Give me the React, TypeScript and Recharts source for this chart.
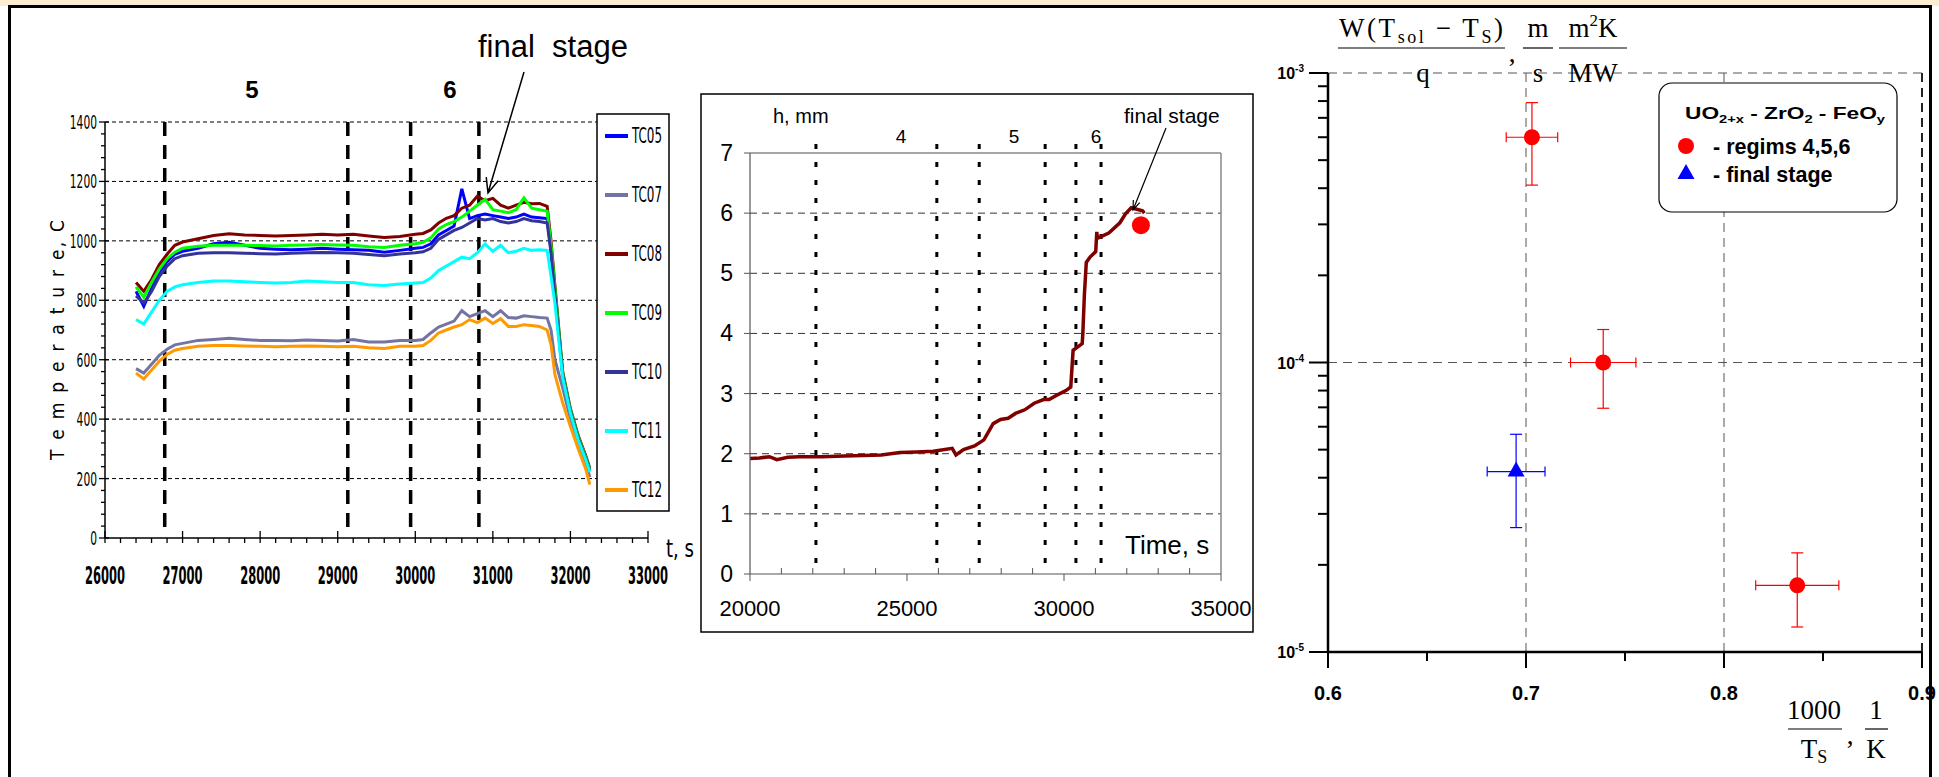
import React from "react";
import {
  LineChart,
  Line,
  ComposedChart,
  ScatterChart,
  Scatter,
  ErrorBar,
  XAxis,
  YAxis,
  ReferenceLine,
  ReferenceDot,
} from "recharts";

const NARROW = "'Liberation Sans Narrow', 'DejaVu Sans Condensed', 'Liberation Sans', Arial, sans-serif";
const SANS = "'Liberation Sans', Arial, Helvetica, sans-serif";
const SERIF = "'Liberation Serif', 'Times New Roman', serif";

// ---------- left panel: thermocouple temperatures, C ----------
const tcTimes = [
  26400, 26500, 26600, 26700, 26800, 26900, 27000,
  27200, 27400, 27600, 27800, 28000, 28200, 28400, 28600, 28800, 29000, 29200, 29400, 29600, 29800,
  30000, 30100, 30200, 30300, 30400, 30500, 30600, 30700, 30800, 30900, 31000, 31100, 31200, 31300, 31400, 31500, 31600, 31700,
  31750, 31800, 31900, 32000, 32100, 32200, 32250,
];
const tc05 = [
  830, 780, 840, 895, 930, 955, 965,
  975, 990, 995, 985, 975, 972, 970, 972, 975, 972, 970, 968, 962, 968,
  975, 978, 990, 1020, 1035, 1050, 1175, 1075, 1085, 1090, 1085, 1080, 1075, 1080, 1090, 1080, 1078, 1075,
  970, 830, 550, 428, 338, 268, 228,
];
const tc07 = [
  570, 555, 585, 615, 635, 650, 655,
  665, 668, 672, 668, 665, 665, 664, 666, 665, 663, 668, 660, 660, 665,
  665, 668, 690, 710, 720, 730, 765, 745, 755, 765, 745, 765, 742, 740, 748, 745, 742, 740,
  700, 600, 505, 400, 320, 250, 205,
];
const tc08 = [
  860, 830, 870, 920, 955, 985, 996,
  1007, 1018, 1024, 1020, 1018, 1016, 1018, 1020, 1022, 1020, 1022, 1016, 1011, 1015,
  1022, 1025, 1037, 1060, 1076, 1085, 1110, 1120, 1150, 1135, 1143, 1120, 1110, 1120, 1130, 1125, 1126, 1116,
  1000, 850, 560, 435, 345, 275, 235,
];
const tc09 = [
  845, 810, 860, 905, 940, 962, 975,
  982, 985, 985, 985, 984, 983, 985, 986, 988, 986, 985, 980, 978, 985,
  990, 995, 1010, 1040, 1055, 1065, 1080, 1100, 1120, 1140, 1105, 1100, 1095, 1105, 1145, 1110, 1105, 1100,
  985, 840, 555, 430, 340, 270, 230,
];
const tc10 = [
  815, 790, 830, 880, 915, 940, 950,
  958, 960, 960, 958, 957, 956, 958, 960, 961, 960, 958, 954, 950, 956,
  960, 963, 975, 1005, 1020, 1035, 1045, 1060, 1075, 1070, 1075, 1065, 1060, 1065, 1075, 1068, 1065, 1060,
  960, 820, 548, 425, 335, 265, 226,
];
const tc11 = [
  735, 720, 760, 800, 830, 845, 852,
  860, 865, 865, 862, 860, 858, 860, 865, 862, 860, 860, 852, 850, 855,
  858, 860, 875, 900, 915, 930, 945, 940, 960, 990, 965, 985, 960, 965, 975, 968, 970, 968,
  880, 790, 540, 420, 330, 262, 222,
];
const tc12 = [
  555, 535, 565, 595, 618, 632, 638,
  645, 648, 648, 646, 645, 644, 645, 646, 645, 644, 645, 640, 638, 645,
  645, 648, 665, 690, 700, 710, 718, 735, 725, 740, 722, 738, 712, 712, 718, 715, 712, 700,
  650, 550, 455, 375, 300, 230, 180,
];
const tcNames = ["TC05", "TC07", "TC08", "TC09", "TC10", "TC11", "TC12"];
const tcColors = ["#0000ff", "#7474a4", "#800000", "#00ff00", "#333399", "#00ffff", "#ff9900"];
const tcValues = [tc05, tc07, tc08, tc09, tc10, tc11, tc12];
const regimeBounds = [26770, 29130, 29940, 30820];
const tempGridValues = [200, 400, 600, 800, 1000, 1200, 1400];
const tempTicks = Array.from({ length: 36 }, (_, i) => i * 40);
const timeTicks = Array.from({ length: 36 }, (_, i) => 26000 + i * 200);

const tcData = tcTimes.map((t, i) => {
  const row: Record<string, number> = { t };
  tcNames.forEach((n, k) => {
    row[n] = tcValues[k][i];
  });
  return row;
});

// ---------- middle panel: melt depth h, mm ----------
const hTimes = [
  20000, 20300, 20620, 20855, 21200, 21570, 22300, 22990, 23600, 24180, 24775, 25300, 25840, 26440, 26560,
  26800, 27150, 27450, 27745, 27980, 28220, 28455, 28750, 29050, 29350, 29525, 29760, 30060, 30215, 30290,
  30580, 30600, 30650, 30710, 30830, 31010, 31045, 31060, 31425, 31780, 31960, 32140, 32500, 32560,
];
const hValues = [
  1.92, 1.93, 1.95, 1.9, 1.94, 1.95, 1.95, 1.96, 1.97, 1.98, 2.02, 2.03, 2.04, 2.09, 1.98,
  2.07, 2.13, 2.23, 2.5, 2.57, 2.59, 2.67, 2.73, 2.84, 2.9, 2.9, 2.97, 3.05, 3.11, 3.72,
  3.83, 4.0, 4.65, 5.18, 5.27, 5.36, 5.69, 5.58, 5.67, 5.84, 5.99, 6.09, 6.04, 6.0,
];
const stageBounds = [22100, 25950, 27300, 29400, 30380, 31180];
const finalStageTime = 32450;
const finalStageDepth = 5.8;
const depthTicks = [0, 1, 2, 3, 4, 5, 6, 7];
const depthGrid = [1, 2, 3, 4, 5, 6];
const hTimeTicks = Array.from({ length: 16 }, (_, i) => 20000 + i * 1000);

const hData = hTimes.map((t, i) => ({ t, h: hValues[i] }));

// ---------- right panel: W(Tsol-Ts)/q vs 1000/Ts ----------
const regimX = [0.703, 0.739, 0.837];
const regimY = [6.0e-4, 1.0e-4, 1.7e-5];
const regimXErr = [0.013, 0.0165, 0.021];
const regimYLow = [4.1e-4, 6.95e-5, 1.22e-5];
const regimYHigh = [7.9e-4, 1.3e-4, 2.2e-5];
const finalX = [0.695];
const finalY = [4.2e-5];
const finalXErr = [0.0146];
const finalYLow = [2.69e-5];
const finalYHigh = [5.65e-5];
const invTempTicks = [0.6, 0.65, 0.7, 0.75, 0.8, 0.85, 0.9];
const invTempMajor = [0.6, 0.7, 0.8, 0.9];
const fluxDecades = [1e-5, 1e-4, 1e-3];
const fluxMantissas = [1, 2, 3, 4, 5, 6, 7, 8, 9];
const fluxTicks = [
  ...fluxDecades.slice(0, 2).flatMap((d) => fluxMantissas.map((m) => m * d)),
  1e-3,
];

const toPoints = (xs: number[], ys: number[], ex: number[], lo: number[], hi: number[]) =>
  xs.map((x, i) => ({ x, y: ys[i], ex: ex[i], ey: [ys[i] - lo[i], hi[i] - ys[i]] }));
const regimData = toPoints(regimX, regimY, regimXErr, regimYLow, regimYHigh);
const finalData = toPoints(finalX, finalY, finalXErr, finalYLow, finalYHigh);

// ---------- tick renderers ----------
const LeftYTick = ({ x, y, payload }: any) => {
  const v = payload.value as number;
  const major = v % 200 === 0;
  const label = String(v);
  return (
    <g>
      <line x1={major ? x - 6 : x - 4} x2={major ? x + 4 : x} y1={y} y2={y} stroke="#000" strokeWidth={1.3} />
      {major && (
        <text
          x={x - 8}
          y={y}
          textAnchor="end"
          dominantBaseline="central"
          fontFamily={NARROW}
          fontSize={20}
          textLength={label.length * 6.8}
          lengthAdjust="spacingAndGlyphs"
        >
          {label}
        </text>
      )}
    </g>
  );
};

const LeftXTick = ({ x, y, payload }: any) => {
  const v = payload.value as number;
  const major = v % 1000 === 0;
  return (
    <g>
      <line x1={x} x2={x} y1={major ? y - 7 : y} y2={y + 5} stroke="#000" strokeWidth={1.3} />
      {major && (
        <text
          x={x}
          y={y + 46}
          textAnchor="middle"
          fontFamily={NARROW}
          fontWeight="bold"
          fontSize={25}
          textLength={40}
          lengthAdjust="spacingAndGlyphs"
        >
          {v}
        </text>
      )}
    </g>
  );
};

const MidYTick = ({ x, y, payload }: any) => (
  <g>
    <line x1={x - 6} x2={x} y1={y} y2={y} stroke="#555" strokeWidth={1} />
    <text x={x - 17} y={y} textAnchor="end" dominantBaseline="central" fontFamily={SANS} fontSize={23}>
      {payload.value}
    </text>
  </g>
);

const MidXTick = ({ x, y, payload }: any) => {
  const v = payload.value as number;
  const major = v % 5000 === 0;
  return (
    <g>
      <line x1={x} x2={x} y1={major ? y : y - 6} y2={major ? y + 7 : y} stroke="#555" strokeWidth={1} />
      {major && (
        <text x={x} y={y + 42} textAnchor="middle" fontFamily={SANS} fontSize={22}>
          {v}
        </text>
      )}
    </g>
  );
};

const RightYTick = ({ x, y, payload }: any) => {
  const v = payload.value as number;
  const exp = Math.round(Math.log10(v));
  const major = Math.abs(Math.log10(v) - exp) < 1e-9;
  return (
    <g>
      <line x1={major ? x - 19 : x - 10} x2={x} y1={y} y2={y} stroke="#000" strokeWidth={2} />
      {major && (
        <text x={x - 24} y={y + 6} textAnchor="end" fontFamily={SANS} fontWeight="bold" fontSize={16}>
          10
          <tspan fontSize={10} dy={-7}>
            {exp}
          </tspan>
        </text>
      )}
    </g>
  );
};

const RightXTick = ({ x, y, payload }: any) => {
  const v = payload.value as number;
  const major = invTempMajor.some((m) => Math.abs(m - v) < 1e-9);
  return (
    <g>
      <line x1={x} x2={x} y1={y} y2={y + (major ? 16 : 9)} stroke="#000" strokeWidth={2} />
      {major && (
        <text x={x} y={y + 48} textAnchor="middle" fontFamily={SANS} fontWeight="bold" fontSize={20}>
          {v.toFixed(1)}
        </text>
      )}
    </g>
  );
};

// ---------- charts ----------
const TemperatureChart = () => (
  <LineChart width={700} height={620} data={tcData} margin={{ top: 122, right: 52, bottom: 40, left: 0 }}>
    <XAxis
      type="number"
      dataKey="t"
      domain={[26000, 33000]}
      ticks={timeTicks}
      interval={0}
      allowDataOverflow
      height={42}
      tickLine={false}
      tickSize={0}
      tickMargin={0}
      axisLine={{ stroke: "#000", strokeWidth: 1.5 }}
      tick={(p: any) => <LeftXTick {...p} />}
    />
    <YAxis
      type="number"
      domain={[0, 1400]}
      ticks={tempTicks}
      interval={0}
      allowDataOverflow
      width={105}
      tickLine={false}
      tickSize={0}
      tickMargin={0}
      axisLine={{ stroke: "#000", strokeWidth: 1.5 }}
      tick={(p: any) => <LeftYTick {...p} />}
    />
    {tempGridValues.map((v) => (
      <ReferenceLine key={v} y={v} stroke="#000" strokeWidth={1} strokeDasharray="4 3" />
    ))}
    {regimeBounds.map((b) => (
      <ReferenceLine
        key={b}
        segment={[{ x: b, y: 1400 }, { x: b, y: 30 }]}
        stroke="#000"
        strokeWidth={3.5}
        strokeDasharray="14 9"
      />
    ))}
    {tcNames.map((n, k) => (
      <Line
        key={n}
        type="linear"
        dataKey={n}
        stroke={tcColors[k]}
        strokeWidth={3}
        dot={false}
        isAnimationActive={false}
      />
    ))}
  </LineChart>
);

const DepthChart = () => (
  <ComposedChart width={580} height={538} data={hData} margin={{ top: 59, right: 60, bottom: 18, left: 0 }}>
    <XAxis
      type="number"
      dataKey="t"
      domain={[20000, 35000]}
      ticks={hTimeTicks}
      interval={0}
      allowDataOverflow
      height={40}
      tickLine={false}
      tickSize={0}
      tickMargin={0}
      axisLine={{ stroke: "#555", strokeWidth: 1.2 }}
      tick={(p: any) => <MidXTick {...p} />}
    />
    <YAxis
      type="number"
      domain={[0, 7]}
      ticks={depthTicks}
      interval={0}
      allowDataOverflow
      width={49}
      tickLine={false}
      tickSize={0}
      tickMargin={0}
      axisLine={{ stroke: "#555", strokeWidth: 1.2 }}
      tick={(p: any) => <MidYTick {...p} />}
    />
    {depthGrid.map((v) => (
      <ReferenceLine key={v} y={v} stroke="#333" strokeWidth={1} strokeDasharray="7 5" />
    ))}
    <ReferenceLine y={7} stroke="#888" strokeWidth={1.5} />
    <ReferenceLine x={35000} stroke="#888" strokeWidth={1.5} />
    {stageBounds.map((b) => (
      <ReferenceLine
        key={b}
        segment={[{ x: b, y: 7.15 }, { x: b, y: 0 }]}
        ifOverflow="visible"
        stroke="#000"
        strokeWidth={3}
        strokeDasharray="5 13"
      />
    ))}
    <Line type="linear" dataKey="h" stroke="#800000" strokeWidth={3.5} dot={false} isAnimationActive={false} />
    <ReferenceDot x={finalStageTime} y={finalStageDepth} r={9} fill="#ff0000" stroke="none" />
  </ComposedChart>
);

const RedDot = (p: any) => <circle cx={p.cx} cy={p.cy} r={8} fill="#ff0000" />;
const BlueTriangle = (p: any) => (
  <path d={`M${p.cx},${p.cy - 10} L${p.cx - 8.5},${p.cy + 5} L${p.cx + 8.5},${p.cy + 5} Z`} fill="#0000ff" />
);

const RateChart = () => (
  <ScatterChart width={669} height={777} margin={{ top: 73, right: 17, bottom: 80, left: 0 }}>
    <XAxis
      type="number"
      dataKey="x"
      domain={[0.6, 0.9]}
      ticks={invTempTicks}
      interval={0}
      allowDataOverflow
      height={45}
      tickLine={false}
      tickSize={0}
      tickMargin={0}
      axisLine={{ stroke: "#000", strokeWidth: 2.5 }}
      tick={(p: any) => <RightXTick {...p} />}
    />
    <YAxis
      type="number"
      dataKey="y"
      scale="log"
      domain={[1e-5, 1e-3]}
      ticks={fluxTicks}
      interval={0}
      allowDataOverflow
      width={58}
      tickLine={false}
      tickSize={0}
      tickMargin={0}
      axisLine={{ stroke: "#000", strokeWidth: 2.5 }}
      tick={(p: any) => <RightYTick {...p} />}
    />
    {[1e-3, 1e-4].map((v) => (
      <ReferenceLine key={v} y={v} stroke="#555" strokeWidth={1} strokeDasharray="9 6" />
    ))}
    {[0.7, 0.8].map((v) => (
      <ReferenceLine key={v} x={v} stroke="#555" strokeWidth={1} strokeDasharray="9 6" />
    ))}
    <ReferenceLine x={0.9} stroke="#222" strokeWidth={2} strokeDasharray="9 6" />
    <Scatter data={regimData} shape={RedDot} isAnimationActive={false}>
      <ErrorBar dataKey="ex" direction="x" width={5} stroke="#ff0000" strokeWidth={1.2} />
      <ErrorBar dataKey="ey" direction="y" width={6} stroke="#ff0000" strokeWidth={1.2} />
    </Scatter>
    <Scatter data={finalData} shape={BlueTriangle} isAnimationActive={false}>
      <ErrorBar dataKey="ex" direction="x" width={5} stroke="#0000ff" strokeWidth={1.2} />
      <ErrorBar dataKey="ey" direction="y" width={6} stroke="#0000ff" strokeWidth={1.2} />
    </Scatter>
  </ScatterChart>
);

// ---------- annotations ----------
const arrow = (x1: number, y1: number, x2: number, y2: number, len: number, spread: number) => {
  const a = Math.atan2(y2 - y1, x2 - x1);
  const ax = x2 - len * Math.cos(a - spread);
  const ay = y2 - len * Math.sin(a - spread);
  const bx = x2 - len * Math.cos(a + spread);
  const by = y2 - len * Math.sin(a + spread);
  return `M${x1},${y1} L${x2},${y2} M${ax},${ay} L${x2},${y2} L${bx},${by}`;
};

const legendY = (k: number) => 136 + k * 59;

const Overlay = () => (
  <svg
    width={1939}
    height={777}
    style={{ position: "absolute", left: 0, top: 0, pointerEvents: "none" }}
    fontFamily={SANS}
  >
    {/* left panel */}
    <text x={252} y={98} textAnchor="middle" fontWeight="bold" fontSize={24}>5</text>
    <text x={450} y={98} textAnchor="middle" fontWeight="bold" fontSize={24}>6</text>
    <text x={478} y={57} fontSize={31} style={{ whiteSpace: "pre" }}>final  stage</text>
    <path d={arrow(524, 72, 488, 193, 16, 0.4)} stroke="#000" strokeWidth={1.5} fill="none" />
    <text
      transform="translate(57,340) rotate(-90)"
      textAnchor="middle"
      dominantBaseline="central"
      fontFamily={NARROW}
      fontSize={19}
      textLength={240}
      lengthAdjust="spacing"
    >
      T e m p e r a t u r e, C
    </text>
    <text x={666} y={557} fontFamily={NARROW} fontSize={24} textLength={28} lengthAdjust="spacingAndGlyphs">
      t, s
    </text>
    <rect x={597} y={114} width={72} height={397} fill="#fff" stroke="#000" strokeWidth={1.5} />
    {tcNames.map((n, k) => (
      <g key={n}>
        <line x1={605} x2={628} y1={legendY(k)} y2={legendY(k)} stroke={tcColors[k]} strokeWidth={4} />
        <text
          x={632}
          y={legendY(k)}
          dominantBaseline="central"
          fontFamily={NARROW}
          fontSize={21}
          textLength={30}
          lengthAdjust="spacingAndGlyphs"
        >
          {n}
        </text>
      </g>
    ))}

    {/* middle panel */}
    <rect x={701} y={94} width={552} height={538} fill="none" stroke="#000" strokeWidth={1.5} />
    <text x={773} y={123} fontSize={20}>h, mm</text>
    <text x={901} y={143} textAnchor="middle" fontSize={19}>4</text>
    <text x={1014} y={143} textAnchor="middle" fontSize={19}>5</text>
    <text x={1096} y={143} textAnchor="middle" fontSize={19}>6</text>
    <text x={1124} y={123} fontSize={21}>final stage</text>
    <path d={arrow(1166, 128, 1133, 210, 10, 0.35)} stroke="#000" strokeWidth={1.2} fill="none" />
    <text x={1125} y={554} fontSize={26}>Time, s</text>

    {/* right panel axis titles */}
    <g fontFamily={SERIF}>
      <text x={1421} y={37} textAnchor="middle" fontSize={27} textLength={164} lengthAdjust="spacing">
        W(T<tspan fontSize={18} dy={6}>sol</tspan>
        <tspan dy={-6}> − T</tspan>
        <tspan fontSize={18} dy={6}>S</tspan>
        <tspan dy={-6}>)</tspan>
      </text>
      <line x1={1338} x2={1505} y1={48} y2={48} stroke="#000" strokeWidth={1.2} />
      <text x={1423} y={82} textAnchor="middle" fontSize={27}>q</text>
      <text x={1512} y={62} textAnchor="middle" fontSize={27}>,</text>
      <text x={1538} y={37} textAnchor="middle" fontSize={27}>m</text>
      <line x1={1523} x2={1553} y1={48} y2={48} stroke="#000" strokeWidth={1.2} />
      <text x={1538} y={82} textAnchor="middle" fontSize={27}>s</text>
      <text x={1593} y={37} textAnchor="middle" fontSize={27}>
        m<tspan fontSize={17} dy={-11}>2</tspan>
        <tspan dy={11}>K</tspan>
      </text>
      <line x1={1559} x2={1627} y1={48} y2={48} stroke="#000" strokeWidth={1.2} />
      <text x={1593} y={82} textAnchor="middle" fontSize={27}>MW</text>

      <text x={1814} y={719} textAnchor="middle" fontSize={27}>1000</text>
      <line x1={1788} x2={1842} y1={729} y2={729} stroke="#000" strokeWidth={1.2} />
      <text x={1814} y={758} textAnchor="middle" fontSize={27}>
        T<tspan fontSize={18} dy={5}>S</tspan>
      </text>
      <text x={1850} y={744} textAnchor="middle" fontSize={27}>,</text>
      <text x={1876} y={719} textAnchor="middle" fontSize={27}>1</text>
      <line x1={1865} x2={1888} y1={729} y2={729} stroke="#000" strokeWidth={1.2} />
      <text x={1876} y={758} textAnchor="middle" fontSize={27}>K</text>
    </g>

    {/* right panel legend */}
    <rect x={1659} y={83} width={238} height={129} rx={13} fill="#fff" stroke="#000" strokeWidth={1.2} />
    <text x={1685} y={119} fontWeight="bold" fontSize={17} textLength={200} lengthAdjust="spacingAndGlyphs">
      UO<tspan fontSize={11} dy={4}>2+x</tspan>
      <tspan dy={-4}> - ZrO</tspan>
      <tspan fontSize={11} dy={4}>2</tspan>
      <tspan dy={-4}> - FeO</tspan>
      <tspan fontSize={11} dy={4}>y</tspan>
    </text>
    <circle cx={1686} cy={146} r={8} fill="#ff0000" />
    <text x={1713} y={154} fontWeight="bold" fontSize={21.5}>- regims 4,5,6</text>
    <path d="M1686,164 L1677.5,179 L1694.5,179 Z" fill="#0000ff" />
    <text x={1713} y={182} fontWeight="bold" fontSize={21.5}>- final stage</text>

    {/* outer frame */}
    <rect x={0} y={0} width={1939} height={6} fill="#fbecd3" />
    <rect x={8} y={5} width={1924} height={3} fill="#000" />
    <rect x={8} y={5} width={3} height={772} fill="#000" />
    <rect x={1929} y={5} width={3} height={772} fill="#000" />
  </svg>
);

export default function App() {
  return (
    <div
      style={{
        position: "relative",
        width: 1939,
        height: 777,
        background: "#fff",
        overflow: "hidden",
        fontFamily: SANS,
      }}
    >
      <style>{"body{margin:0}"}</style>
      <div style={{ position: "absolute", left: 0, top: 0 }}>
        <TemperatureChart />
      </div>
      <div style={{ position: "absolute", left: 701, top: 94 }}>
        <DepthChart />
      </div>
      <div style={{ position: "absolute", left: 1270, top: 0 }}>
        <RateChart />
      </div>
      <Overlay />
    </div>
  );
}
